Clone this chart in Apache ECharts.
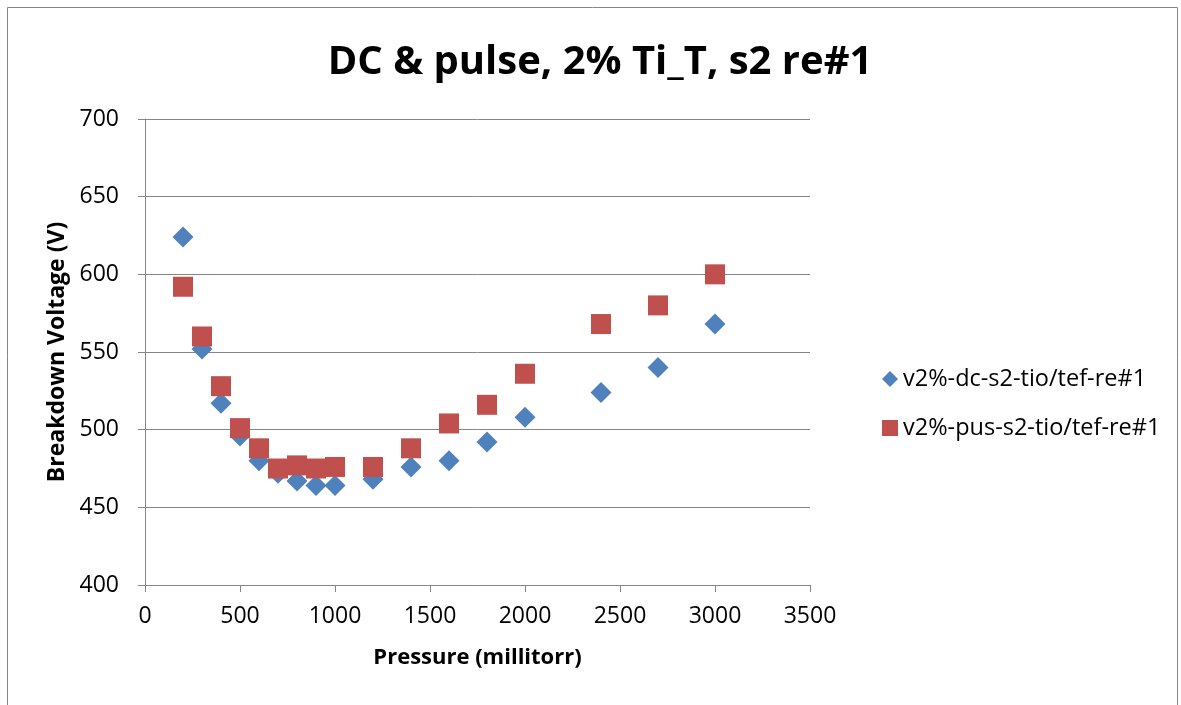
<!DOCTYPE html>
<html>
<head>
<meta charset="utf-8">
<script src="https://cdn.jsdelivr.net/npm/echarts@6/dist/echarts.min.js"></script>
<style>
  html, body { margin: 0; padding: 0; background: #fff; }
  #chart { width: 1181px; height: 705px; }
</style>
</head>
<body>
<div id="chart"></div>
<script>
const pressure = [200, 300, 400, 500, 600, 700, 800, 900, 1000, 1200, 1400, 1600, 1800, 2000, 2400, 2700, 3000];
const dcVoltage = [624, 552, 517, 496, 480, 472, 467, 464, 464, 468, 476, 480, 492, 508, 524, 540, 568];
const pulseVoltage = [592, 560, 528, 501, 488, 475, 477, 475, 476, 476, 488, 504, 516, 536, 568, 580, 600];

const dcName = 'v2%-dc-s2-tio/tef-re#1';
const pulseName = 'v2%-pus-s2-tio/tef-re#1';
const font = '"Open Sans", "Noto Sans", sans-serif';

const chart = echarts.init(document.getElementById('chart'));

const pairs = (xs, ys) => xs.map((x, i) => [x, ys[i]]);

chart.setOption({
    animation: false,
    backgroundColor: '#fff',
    graphic: [{
        type: 'rect',
        shape: { x: 7.5, y: 7.5, width: 1170, height: 710 },
        style: { fill: 'none', stroke: '#868686', lineWidth: 1 },
        silent: true
    }],
    title: {
        text: 'DC & pulse, 2% Ti_T, s2 re#1',
        left: 595,
        top: 38,
        textAlign: 'center',
        textStyle: { fontFamily: font, fontSize: 40, fontWeight: 'bold', color: '#000' }
    },
    legend: {
        orient: 'vertical',
        left: 877,
        top: 361,
        itemGap: 23,
        itemWidth: 16,
        itemHeight: 16,
        textStyle: { fontFamily: font, fontSize: 23.5, lineHeight: 26, color: '#000' },
        data: [
            { name: dcName, icon: 'diamond' },
            { name: pulseName, icon: 'rect' }
        ]
    },
    grid: { left: 145, right: 371, top: 119, bottom: 120 },
    xAxis: {
        type: 'value',
        min: 0,
        max: 3500,
        interval: 500,
        name: 'Pressure (millitorr)',
        nameLocation: 'middle',
        nameGap: 62,
        nameTextStyle: { fontFamily: font, fontSize: 22, fontWeight: 'bold', color: '#000' },
        axisLine: { show: true, lineStyle: { color: '#868686' } },
        axisTick: { show: true, length: 7, lineStyle: { color: '#868686' } },
        axisLabel: { fontFamily: font, fontSize: 23, color: '#000', margin: 20, formatter: v => String(v) },
        splitLine: { show: false }
    },
    yAxis: {
        type: 'value',
        min: 400,
        max: 700,
        interval: 50,
        name: 'Breakdown Voltage (V)',
        nameLocation: 'middle',
        nameGap: 74,
        nameTextStyle: { fontFamily: font, fontSize: 23, fontWeight: 'bold', color: '#000' },
        axisLine: { show: true, lineStyle: { color: '#868686' } },
        axisTick: { show: true, length: 7, lineStyle: { color: '#868686' } },
        axisLabel: { fontFamily: font, fontSize: 23, color: '#000', margin: 26 },
        splitLine: { show: true, lineStyle: { color: '#868686', width: 1 } }
    },
    series: [
        {
            name: dcName,
            type: 'scatter',
            symbol: 'diamond',
            symbolSize: 21,
            itemStyle: { color: '#4F81BD', opacity: 1 },
            data: pairs(pressure, dcVoltage),
            z: 2
        },
        {
            name: pulseName,
            type: 'scatter',
            symbol: 'rect',
            symbolSize: 20,
            itemStyle: { color: '#C0504D', opacity: 1 },
            data: pairs(pressure, pulseVoltage),
            z: 3
        }
    ]
});
</script>
</body>
</html>
